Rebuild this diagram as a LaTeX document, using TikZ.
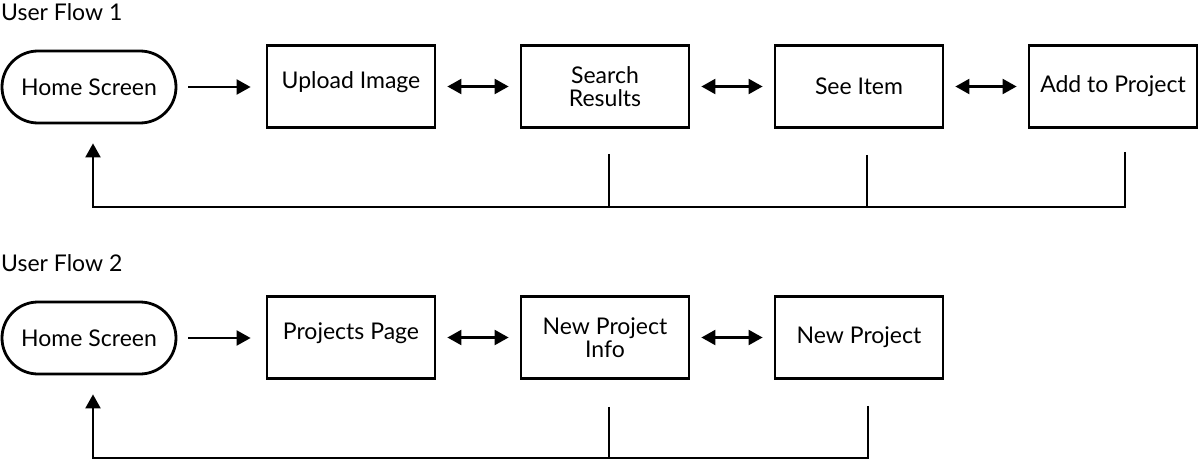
\documentclass[tikz,border=0pt]{standalone}
\usepackage{fontspec}
\setmainfont{Lato}
\usetikzlibrary{shapes.misc,arrows.meta,positioning,calc}

\begin{document}
\begin{tikzpicture}[x=1pt,y=-1pt,
    font=\fontsize{23}{23}\selectfont,
    screen/.style={draw, line width=2.8pt, minimum width=168pt, minimum height=82pt, align=center, inner sep=0pt},
    home/.style={draw, rounded rectangle, line width=2.8pt, minimum width=174pt, minimum height=72pt, inner sep=0pt},
    raised/.style={text depth=12pt},
    flowline/.style={line width=2.2pt},
    flowarrow/.style={line width=2.2pt, -{Triangle[length=14pt,width=15pt]}, shorten <=11pt, shorten >=15pt},
    bothways/.style={line width=2.2pt, {Triangle[length=14pt,width=15pt]}-{Triangle[length=14pt,width=15pt]}, shorten <=11pt, shorten >=11pt},
    backarrow/.style={line width=2.2pt, -{Triangle[length=14pt,width=15pt]}, shorten >=19pt}]
    \useasboundingbox (0,0) rectangle (1200,460);
    % user flow 1
    \node[anchor=base west, inner sep=0pt] (title1) at (1,21) {User Flow 1};
    \node[home] (home1) at (89,87) {Home Screen};
    \node[screen, raised] (upload) at (351,86.5) {Upload Image};
    \node[screen] (search) at (605,86.5) {Search\\Results};
    \node[screen] (item) at (859,86.5) {See Item};
    \node[screen] (add) at (1113,86.5) {Add to Project};
    \draw[flowarrow] (home1.east) -- (home1.east -| upload.west);
    \draw[bothways] (upload) -- (search);
    \draw[bothways] (search) -- (item);
    \draw[bothways] (item) -- (add);
    \coordinate (bus1) at (93,207);
    \coordinate (drop1) at ([xshift=4pt,yshift=-25pt]search.south);
    \coordinate (drop2) at ([xshift=8pt,yshift=-26pt]item.south);
    \coordinate (drop3) at ([xshift=12pt,yshift=-23pt]add.south);
    \draw[flowline] (drop1) -- (drop1 |- bus1);
    \draw[flowline] (drop2) -- (drop2 |- bus1);
    \draw[backarrow] (drop3) |- (bus1) -- (bus1 |- home1.south);
    % user flow 2
    \node[anchor=base west, inner sep=0pt] (title2) at (1,271) {User Flow 2};
    \node[home] (home2) at (89,338) {Home Screen};
    \node[screen, raised] (projects) at (351,337.5) {Projects Page};
    \node[screen] (info) at (605,337.5) {New Project\\Info};
    \node[screen] (newproj) at (859,337.5) {New Project};
    \draw[flowarrow] (home2.east) -- (home2.east -| projects.west);
    \draw[bothways] (projects) -- (info);
    \draw[bothways] (info) -- (newproj);
    \coordinate (bus2) at (93,458);
    \coordinate (drop4) at ([xshift=4pt,yshift=-27pt]info.south);
    \coordinate (drop5) at ([xshift=9pt,yshift=-26pt]newproj.south);
    \draw[flowline] (drop4) -- (drop4 |- bus2);
    \draw[backarrow] (drop5) |- (bus2) -- (bus2 |- home2.south);
\end{tikzpicture}
\end{document}
